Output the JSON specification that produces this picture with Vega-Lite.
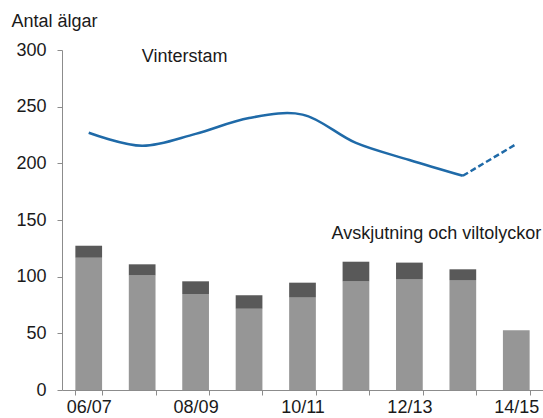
{
  "$schema": "https://vega.github.io/schema/vega-lite/v6.json",
  "width": 481,
  "height": 340,
  "autosize": {"type": "none"},
  "padding": {"left": 62, "top": 50, "right": 0, "bottom": 28},
  "background": "white",
  "config": {
    "font": "Liberation Sans",
    "view": {"stroke": null},
    "axis": {
      "labelFont": "Liberation Sans",
      "labelFontSize": 18,
      "labelColor": "#1a1a1a",
      "domainColor": "#8c8c8c",
      "tickColor": "#8c8c8c",
      "tickSize": 5,
      "grid": false
    },
    "axisY": {
      "titleAngle": 0,
      "titleAlign": "left",
      "titleBaseline": "alphabetic",
      "titleX": -51,
      "titleY": -24,
      "titleFont": "Liberation Sans",
      "titleFontSize": 18,
      "titleFontWeight": "normal",
      "titleColor": "#1a1a1a",
      "labelPadding": 11,
      "values": [0, 50, 100, 150, 200, 250, 300]
    },
    "axisX": {
      "tickBand": "extent",
      "labelPadding": 3,
      "labelOverlap": false,
      "labelAngle": 0,
      "labelExpr": "indexof(['06/07','08/09','10/11','12/13','14/15'], datum.value) >= 0 ? datum.label : ''"
    }
  },
  "datasets": {
    "seasons": [
      {"season": "06/07", "Avskjutning": 116.7, "Viltolyckor": 10.6, "Vinterstam": 227},
      {"season": "07/08", "Avskjutning": 101.2, "Viltolyckor": 9.7, "Vinterstam": 215.5},
      {"season": "08/09", "Avskjutning": 84.7, "Viltolyckor": 11.2, "Vinterstam": 226},
      {"season": "09/10", "Avskjutning": 71.8, "Viltolyckor": 11.7, "Vinterstam": 240},
      {"season": "10/11", "Avskjutning": 81.5, "Viltolyckor": 13.2, "Vinterstam": 243},
      {"season": "11/12", "Avskjutning": 95.9, "Viltolyckor": 17.3, "Vinterstam": 218},
      {"season": "12/13", "Avskjutning": 97.9, "Viltolyckor": 14.5, "Vinterstam": 203},
      {"season": "13/14", "Avskjutning": 97, "Viltolyckor": 9.5, "Vinterstam": 189},
      {"season": "14/15", "Avskjutning": 52.7, "Viltolyckor": 0, "Vinterstam": 217}
    ],
    "notes": [
      {"season": "08/09", "value": 294, "label": "Vinterstam", "kind": "top"},
      {"season": "14/15", "value": 138, "label": "Avskjutning och viltolyckor", "kind": "bottom"}
    ]
  },
  "layer": [
    {
      "data": {"name": "seasons"},
      "transform": [{"fold": ["Avskjutning", "Viltolyckor"], "as": ["typ", "antal"]}],
      "mark": {"type": "bar"},
      "encoding": {
        "x": {
          "field": "season",
          "type": "nominal",
          "title": null,
          "scale": {"domain": ["06/07","07/08","08/09","09/10","10/11","11/12","12/13","13/14","14/15"], "paddingInner": 0.5, "paddingOuter": 0.25}
        },
        "y": {
          "field": "antal",
          "type": "quantitative",
          "stack": "zero",
          "title": "Antal älgar",
          "scale": {"domain": [0, 300], "nice": false}
        },
        "color": {
          "field": "typ",
          "type": "nominal",
          "scale": {"domain": ["Avskjutning", "Viltolyckor"], "range": ["#969696", "#595959"]},
          "legend": null
        },
        "order": {"field": "typ", "sort": "ascending"}
      }
    },
    {
      "data": {"name": "seasons"},
      "transform": [{"filter": "datum.season != '14/15'"}],
      "mark": {"type": "line", "interpolate": "catmull-rom", "color": "#1f6aa8", "strokeWidth": 2.5},
      "encoding": {
        "x": {"field": "season", "type": "nominal", "title": null},
        "y": {"field": "Vinterstam", "type": "quantitative", "title": "Antal älgar"}
      }
    },
    {
      "data": {"name": "seasons"},
      "transform": [{"filter": "datum.season == '13/14' || datum.season == '14/15'"}],
      "mark": {"type": "line", "color": "#1f6aa8", "strokeWidth": 2.5, "strokeDash": [6, 3]},
      "encoding": {
        "x": {"field": "season", "type": "nominal", "title": null},
        "y": {"field": "Vinterstam", "type": "quantitative", "title": "Antal älgar"}
      }
    },
    {
      "data": {"name": "notes"},
      "transform": [{"filter": "datum.kind == 'top'"}],
      "mark": {"type": "text", "fontSize": 18, "color": "#1a1a1a", "align": "center", "baseline": "middle", "dx": -11},
      "encoding": {
        "x": {"field": "season", "type": "nominal", "title": null},
        "y": {"field": "value", "type": "quantitative", "title": "Antal älgar"},
        "text": {"field": "label"}
      }
    },
    {
      "data": {"name": "notes"},
      "transform": [{"filter": "datum.kind == 'bottom'"}],
      "mark": {"type": "text", "fontSize": 18, "color": "#1a1a1a", "align": "right", "baseline": "middle", "dx": 25},
      "encoding": {
        "x": {"field": "season", "type": "nominal", "title": null},
        "y": {"field": "value", "type": "quantitative", "title": "Antal älgar"},
        "text": {"field": "label"}
      }
    }
  ]
}
